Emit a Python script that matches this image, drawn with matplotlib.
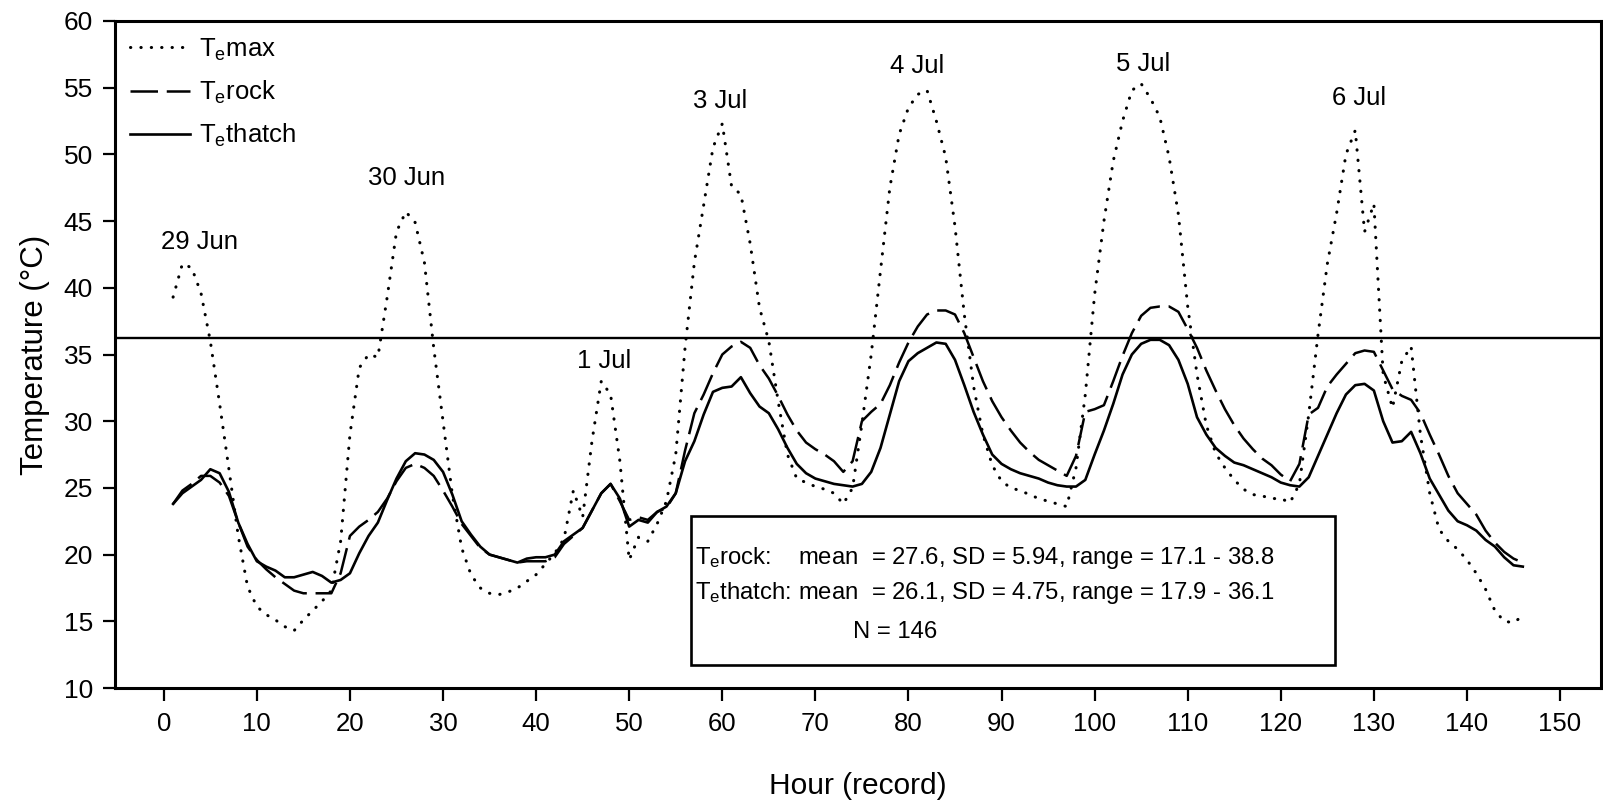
import matplotlib
matplotlib.use("Agg")
import matplotlib.pyplot as plt
from matplotlib.patches import Rectangle
import numpy as np

plt.rcParams['font.family'] = ['Liberation Sans', 'DejaVu Sans']
plt.rcParams['mathtext.default'] = 'regular'

hours = list(range(1, 147))

te_max = [39.3, 41.8, 41.5, 39.6, 36.0, 31.3, 26.4, 21.4, 17.6, 16.1,
          15.5, 15.1, 14.6, 14.3, 15.1, 15.8, 16.5, 17.3, 21.0, 29.0,
          34.0, 35.0, 34.8, 39.3, 44.2, 45.7, 44.9, 41.9, 35.5, 30.0,
          24.5, 20.5, 18.5, 17.5, 17.1, 17.0, 17.2, 17.5, 18.0, 18.5,
          19.3, 20.1, 21.2, 24.8, 22.8, 28.5, 33.0, 32.0, 27.0, 19.6,
          21.3, 21.0, 22.3, 24.0, 27.5, 35.5, 41.9, 46.2, 50.5, 52.3,
          47.6, 47.0, 43.3, 38.5, 36.0, 31.5, 27.5, 25.7, 25.4, 25.1,
          24.9, 24.6, 23.8, 25.0, 29.8, 35.0, 41.3, 47.5, 51.5, 53.5,
          54.5, 54.8, 52.5, 49.8, 44.6, 38.0, 32.6, 29.0, 26.7, 25.5,
          25.0, 24.8, 24.5, 24.2, 24.0, 23.8, 23.6, 26.5, 32.0, 39.5,
          45.0, 49.5, 52.5, 54.8, 55.3, 54.2, 52.8, 49.8, 45.5, 38.6,
          33.5, 29.7, 27.6, 26.5, 25.6, 24.9, 24.5, 24.4, 24.2, 24.2,
          23.9, 25.3, 30.5, 36.5, 41.8, 45.6, 50.0, 51.8, 44.2, 46.3,
          33.5, 31.0, 34.5, 35.6, 29.0, 24.6, 21.9, 21.0, 20.4, 19.6,
          18.6, 17.4, 15.8, 15.0, 14.9, 15.4]

te_rock = [23.8, 24.8, 25.3, 25.9, 25.9, 25.4, 24.4, 22.4, 20.6, 19.6,
           18.9, 18.3, 17.8, 17.3, 17.1, 17.1, 17.1, 17.1, 18.6, 21.4,
           22.1, 22.6, 23.2, 24.2, 25.5, 26.5, 26.8, 26.5, 25.9, 24.8,
           23.6, 22.3, 21.4, 20.5, 20.0, 19.8, 19.6, 19.4, 19.5, 19.5,
           19.5, 19.8, 20.8, 21.4, 22.0, 23.3, 24.6, 25.3, 24.0, 22.6,
           22.8, 22.6, 23.2, 23.5, 24.6, 27.8, 30.6, 32.0, 33.6, 35.0,
           35.6, 35.95, 35.5, 34.2, 33.2, 31.9, 30.5, 29.3, 28.4, 27.9,
           27.5, 27.0, 26.2, 27.0, 30.0, 30.7, 31.3, 32.7, 34.4, 35.9,
           37.1, 38.0, 38.3, 38.3, 38.0, 36.6, 34.8, 33.0, 31.5, 30.3,
           29.3, 28.4, 27.7, 27.1, 26.7, 26.3, 25.9, 27.4, 30.7, 30.9,
           31.2, 33.0, 34.9, 36.6, 37.9, 38.5, 38.6, 38.6, 38.2, 36.9,
           35.5, 33.8, 32.3, 30.9, 29.7, 28.7, 27.9, 27.2, 26.7, 26.0,
           25.5, 26.8, 30.5, 31.0, 32.6, 33.5, 34.3, 35.1, 35.3, 35.2,
           33.8, 32.4, 31.9, 31.6, 30.6, 29.0, 27.5, 25.9, 24.6, 23.8,
           23.0, 21.8, 20.9, 20.2, 19.7, 19.4]

te_thatch = [23.8, 24.6, 25.1, 25.6, 26.4, 26.1, 24.7, 22.4, 20.8, 19.5,
             19.1, 18.8, 18.3, 18.3, 18.5, 18.7, 18.4, 17.9, 18.1, 18.6,
             20.1, 21.4, 22.4, 24.1, 25.7, 27.0, 27.6, 27.5, 27.1, 26.2,
             24.5, 22.5, 21.5, 20.6, 20.0, 19.8, 19.6, 19.4, 19.7, 19.8,
             19.8, 20.0, 21.0, 21.5, 22.0, 23.3, 24.6, 25.3, 24.2, 22.1,
             22.6, 22.4, 23.2, 23.6, 24.6, 27.0, 28.5, 30.5, 32.2, 32.5,
             32.6, 33.3, 32.1, 31.1, 30.6, 29.4, 28.0, 26.8, 26.1, 25.7,
             25.5, 25.3, 25.2, 25.1, 25.3, 26.2, 28.0, 30.5, 33.0, 34.5,
             35.1, 35.5, 35.9, 35.8, 34.6, 32.7, 30.7, 29.0, 27.5, 26.8,
             26.4, 26.1, 25.9, 25.7, 25.4, 25.2, 25.1, 25.1, 25.6, 27.5,
             29.3, 31.3, 33.5, 35.0, 35.8, 36.1, 36.1, 35.7, 34.6, 32.8,
             30.3, 29.0, 28.0, 27.4, 26.9, 26.7, 26.4, 26.1, 25.8, 25.4,
             25.2, 25.1, 25.8, 27.4, 29.0, 30.6, 32.0, 32.7, 32.8, 32.3,
             30.0, 28.4, 28.5, 29.2, 27.6, 25.7, 24.5, 23.3, 22.5, 22.2,
             21.8, 21.1, 20.6, 19.8, 19.2, 19.1]

threshold = 36.2

day_labels = ['29 Jun', '30 Jun', '1 Jul', '3 Jul', '4 Jul', '5 Jul', '6 Jul']
day_x = [3.8, 26.1, 47.3, 59.8, 80.9, 105.2, 128.4]
day_y = [43.4, 48.2, 34.5, 54.0, 56.6, 56.8, 54.2]

x_ticks = list(range(0, 151, 10))
y_ticks = list(range(10, 61, 5))

stats_lines = ['T$_{e}$rock:    mean  = 27.6, SD = 5.94, range = 17.1 - 38.8',
               'T$_{e}$thatch: mean  = 26.1, SD = 4.75, range = 17.9 - 36.1']
n_text = 'N = 146'

fig = plt.figure(figsize=(16.03, 8.08), dpi=100)
ax = fig.add_axes([115 / 1603, 1 - 688 / 808, (1601 - 115) / 1603, (688 - 21) / 808])

ax.plot(hours, te_max, color='black', lw=2.2, linestyle=(0, (0.1, 3.3)),
        dash_capstyle='round', label='T$_{e}$max')
ax.plot(hours, te_rock, color='black', lw=1.8, linestyle=(0, (11, 3.5)),
        label='T$_{e}$rock')
ax.plot(hours, te_thatch, color='black', lw=1.9, label='T$_{e}$thatch')
ax.axhline(threshold, color='black', lw=1.7)

for lab, x, y in zip(day_labels, day_x, day_y):
    ax.text(x, y, lab, ha='center', va='center', fontsize=18.5)

ax.set_xlim(-5.24, 154.4)
ax.set_ylim(10, 60)
ax.set_xticks(x_ticks)
ax.set_yticks(y_ticks)
ax.tick_params(axis='y', direction='out', length=9, width=1.6, labelsize=19, pad=7)
ax.tick_params(axis='x', direction='out', length=9, width=1.6, labelsize=18.5, pad=8)
for s in ax.spines.values():
    s.set_linewidth(2.2)

ax.set_xlabel('Hour (record)', fontsize=21.5, labelpad=26)
ax.set_ylabel('Temperature (°C)', fontsize=22.5, labelpad=10)

leg = ax.legend(loc='upper left', bbox_to_anchor=(0.0, 1.0), frameon=False,
                fontsize=18.5, handlelength=2.3, handletextpad=0.35,
                labelspacing=0.62, borderaxespad=0.2, borderpad=0.4)

# statistics box
box = Rectangle((56.6, 11.74), 125.8 - 56.6, 22.9 - 11.74, fill=False,
                edgecolor='black', lw=1.9, zorder=5)
ax.add_patch(box)
ax.text(57.05, 19.74, stats_lines[0], fontsize=17.2, va='center', ha='left')
ax.text(57.05, 17.1, stats_lines[1], fontsize=17.2, va='center', ha='left')
ax.text(74.0, 14.2, n_text, fontsize=17.2, va='center', ha='left')

fig.savefig('out.png', dpi=100)
